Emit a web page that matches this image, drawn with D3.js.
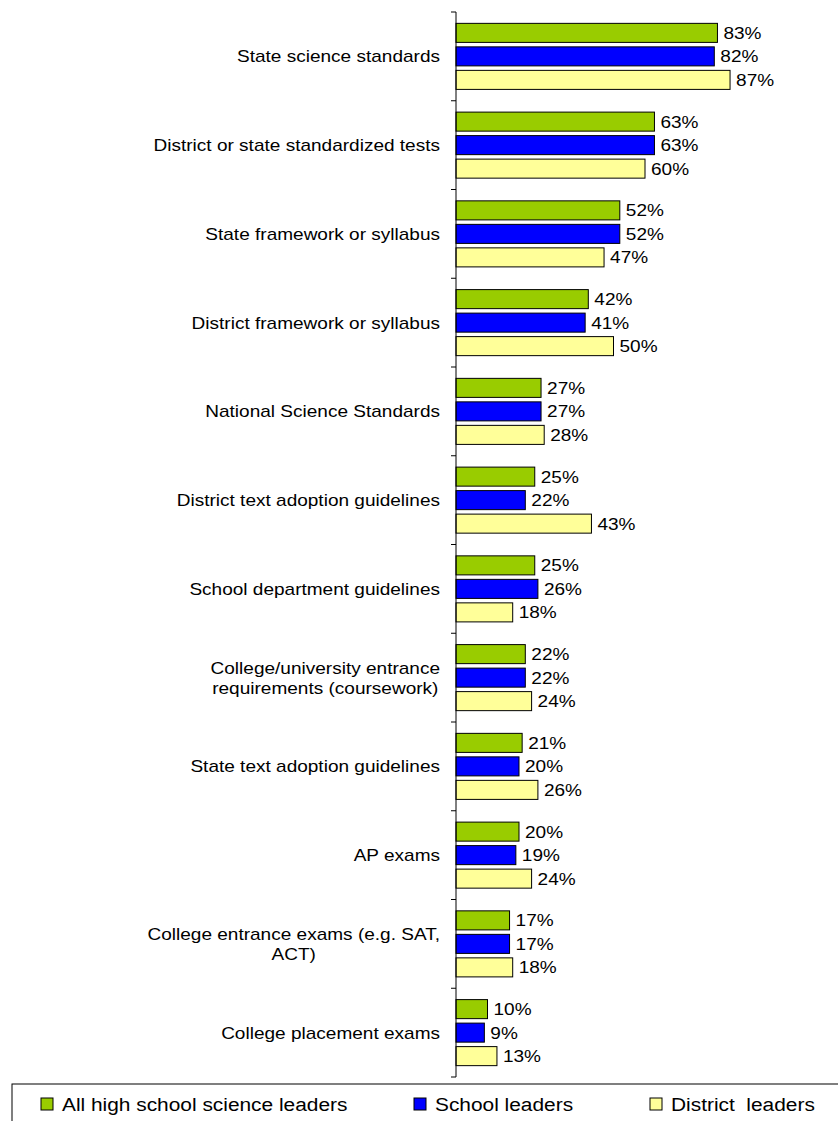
<!DOCTYPE html>
<html>
<head>
<meta charset="utf-8">
<script src="https://cdn.jsdelivr.net/npm/d3@7/dist/d3.min.js"></script>
<style>
  html, body { margin: 0; padding: 0; background: #fff; }
  svg { display: block; }
  text { font-family: "Liberation Sans", Arial, sans-serif; fill: #000; }
</style>
</head>
<body>
<svg id="chart" width="838" height="1121"></svg>
<script>
// Categories (each entry is the list of lines drawn for the label)
const categories = [
  ["State science standards"],
  ["District or state standardized tests"],
  ["State framework or syllabus"],
  ["District framework or syllabus"],
  ["National Science Standards"],
  ["District text adoption guidelines"],
  ["School department guidelines"],
  ["College/university entrance", "requirements (coursework)"],
  ["State text adoption guidelines"],
  ["AP exams"],
  ["College entrance exams (e.g. SAT,", "ACT)"],
  ["College placement exams"]
];

const seriesNames = ["All high school science leaders", "School leaders", "District  leaders"];
const seriesColors = ["#99CC00", "#0000FF", "#FFFF99"];

// Percent of respondents, one value per category
const allLeaders      = [83, 63, 52, 42, 27, 25, 25, 22, 21, 20, 17, 10];
const schoolLeaders   = [82, 63, 52, 41, 27, 22, 26, 22, 20, 19, 17, 9];
const districtLeaders = [87, 60, 47, 50, 28, 43, 18, 24, 26, 24, 18, 13];

const seriesValues = [allLeaders, schoolLeaders, districtLeaders];

const svg = d3.select("#chart");

const axisX = 456;
const y = d3.scaleBand()
  .domain(d3.range(categories.length))
  .range([12, 1077])
  .paddingInner(0)
  .paddingOuter(0);

const yInner = d3.scaleBand()
  .domain(d3.range(seriesNames.length))
  .range([0, y.bandwidth()])
  .paddingInner(0.19)
  .paddingOuter(0.483);

const x = d3.scaleLinear().domain([0, 100]).range([axisX, 771]);

const labelStretch = 1.12;

// Bars and value labels
const groups = svg.append("g").selectAll("g.cat")
  .data(categories.map((c, i) => i))
  .join("g")
  .attr("class", "cat")
  .attr("transform", i => `translate(0,${y(i)})`);

groups.each(function(i) {
  const g = d3.select(this);
  const rows = seriesValues.map((vals, s) => ({ s, v: vals[i] }));
  g.selectAll("rect")
    .data(rows)
    .join("rect")
    .attr("x", x(0))
    .attr("y", d => yInner(d.s))
    .attr("width", d => x(d.v) - x(0))
    .attr("height", yInner.bandwidth())
    .attr("fill", d => seriesColors[d.s])
    .attr("stroke", "#000")
    .attr("stroke-width", 1);

  g.selectAll("g.val")
    .data(rows)
    .join("g")
    .attr("class", "val")
    .attr("transform", d => `translate(${x(d.v) + 6},${yInner(d.s) + yInner.bandwidth() / 2 + 6}) scale(${labelStretch},1)`)
    .append("text")
    .style("font-size", "17px")
    .text(d => d.v + "%");
});

// Category axis
const axis = d3.axisLeft(y).tickSize(5).tickFormat("");
const axisG = svg.append("g").attr("transform", `translate(${axisX},0)`).call(axis);
axisG.select(".domain").remove();
axisG.selectAll(".tick").remove();
// Tick marks at the category boundaries
const bounds = d3.range(categories.length + 1).map(i => 12 + i * y.step());
axisG.selectAll("line.b")
  .data(bounds)
  .join("line")
  .attr("class", "b")
  .attr("x1", -5).attr("x2", 0)
  .attr("y1", d => d).attr("y2", d => d)
  .attr("stroke", "#000");
axisG.append("line")
  .attr("x1", 0).attr("x2", 0)
  .attr("y1", bounds[0]).attr("y2", bounds[bounds.length - 1])
  .attr("stroke", "#000");

// Category labels
const lineH = 20;
categories.forEach((lines, i) => {
  const cy = y(i) + y.bandwidth() / 2;
  const lg = svg.append("g")
    .attr("transform", `translate(440,${cy}) scale(${labelStretch},1)`);
  const texts = lines.map((t, k) => lg.append("text")
    .style("font-size", "17px")
    .attr("text-anchor", "middle")
    .attr("y", (k - (lines.length - 1) / 2) * lineH + 6)
    .text(t));
  const maxW = d3.max(texts, t => t.node().getComputedTextLength());
  texts.forEach(t => t.attr("x", -maxW / 2));
});

// Legend
svg.append("rect")
  .attr("x", 12).attr("y", 1084)
  .attr("width", 860).attr("height", 60)
  .attr("fill", "none").attr("stroke", "#000").attr("stroke-width", 1);

const legendX = [41, 414, 650];
seriesNames.forEach((name, s) => {
  svg.append("rect")
    .attr("x", legendX[s]).attr("y", 1098)
    .attr("width", 12).attr("height", 12)
    .attr("fill", seriesColors[s]).attr("stroke", "#000");
  svg.append("g")
    .attr("transform", `translate(${legendX[s] + 21},1110.5) scale(1.16,1)`)
    .append("text")
    .style("font-size", "18px")
    .style("white-space", "pre")
    .attr("xml:space", "preserve")
    .text(name);
});
</script>
</body>
</html>
